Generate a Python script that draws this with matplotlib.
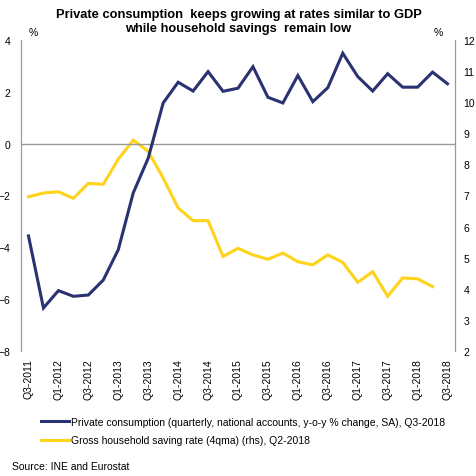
import matplotlib
matplotlib.use("Agg")
import matplotlib.pyplot as plt

plt.rcParams['font.family'] = ['Liberation Sans', 'DejaVu Sans']

# Quarterly categories Q3-2011 .. Q3-2018
quarters = ["Q3-2011", "Q4-2011", "Q1-2012", "Q2-2012", "Q3-2012", "Q4-2012",
            "Q1-2013", "Q2-2013", "Q3-2013", "Q4-2013", "Q1-2014", "Q2-2014",
            "Q3-2014", "Q4-2014", "Q1-2015", "Q2-2015", "Q3-2015", "Q4-2015",
            "Q1-2016", "Q2-2016", "Q3-2016", "Q4-2016", "Q1-2017", "Q2-2017",
            "Q3-2017", "Q4-2017", "Q1-2018", "Q2-2018", "Q3-2018"]

# Private consumption, y-o-y % change (left axis)
consumption = [-3.56, -6.34, -5.67, -5.89, -5.84, -5.26, -4.09, -1.90, -0.56,
               1.57, 2.37, 2.03, 2.78, 2.02, 2.14, 2.97, 1.79, 1.57, 2.63,
               1.62, 2.16, 3.49, 2.59, 2.03, 2.70, 2.18, 2.18, 2.76, 2.31]

# Gross household saving rate, 4qma (right axis), up to Q2-2018
saving_rate = [6.96, 7.08, 7.12, 6.91, 7.39, 7.36, 8.17, 8.78, 8.42, 7.56,
               6.60, 6.19, 6.19, 5.04, 5.30, 5.09, 4.95, 5.15, 4.87, 4.77,
               5.09, 4.85, 4.21, 4.55, 3.76, 4.35, 4.32, 4.07]

left_ticks = [-8, -6, -4, -2, 0, 2, 4]
right_ticks = [2, 3, 4, 5, 6, 7, 8, 9, 10, 11, 12]

navy = "#2b3272"
yellow = "#ffd31a"
grey = "#9a9a9a"

fig = plt.figure(figsize=(4.77, 4.77), dpi=100)
ax = fig.add_axes([21 / 477, 1 - 352 / 477, 434 / 477, 311 / 477])
ax2 = ax.twinx()

x = list(range(len(quarters)))
l1, = ax.plot(x, consumption, color=navy, lw=2.2, solid_joinstyle='miter',
              label="Private consumption (quarterly, national accounts, y-o-y % change, SA), Q3-2018")
l2, = ax2.plot(x[:len(saving_rate)], saving_rate, color=yellow, lw=2.2,
               solid_joinstyle='miter',
               label="Gross household saving rate (4qma) (rhs), Q2-2018")
ax.set_zorder(ax2.get_zorder() + 1)
ax.patch.set_visible(False)

ax.axhline(0, color=grey, lw=1.0, zorder=0)

ax.set_xlim(-0.5, len(quarters) - 0.5)
ax.set_ylim(-8, 4)
ax2.set_ylim(2, 12)
ax.set_yticks(left_ticks)
ax2.set_yticks(right_ticks)
ax.set_xticks(x[::2])
ax.set_xticklabels(quarters[::2], rotation=90, fontsize=7.5)

for a in (ax, ax2):
    for s in ("top", "bottom"):
        a.spines[s].set_visible(False)
    a.spines["left"].set_color(grey)
    a.spines["right"].set_color(grey)
    a.tick_params(length=0, labelsize=7.5, colors="black")
ax.tick_params(axis="y", pad=7.5)
ax2.tick_params(axis="y", pad=6)
ax.tick_params(axis="x", pad=5)

fig.text(33 / 477, 1 - 33 / 477, "%", fontsize=7.5, ha="center", va="center")
fig.text(438 / 477, 1 - 33 / 477, "%", fontsize=7.5, ha="center", va="center")

fig.text(0.5, 1 - 22 / 477,
         "Private consumption  keeps growing at rates similar to GDP\nwhile household savings  remain low",
         fontsize=9.3, fontweight="bold", ha="center", va="center", linespacing=1.3)

fig.legend(handles=[l1, l2], loc="upper left",
           bbox_to_anchor=(41 / 477, 1 - 418 / 477), frameon=False,
           fontsize=7.5, handlelength=2.7, handletextpad=0.15, labelspacing=0.8,
           borderaxespad=0, borderpad=0)

fig.text(12 / 477, 1 - 467 / 477, "Source: INE and Eurostat", fontsize=7.5,
         ha="left", va="center")

fig.savefig("out.png", dpi=100)
